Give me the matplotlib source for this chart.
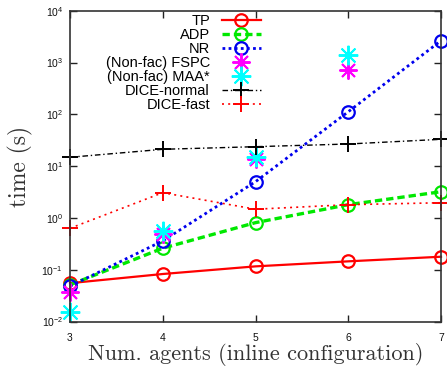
import math
import matplotlib
matplotlib.use("Agg")
import matplotlib.pyplot as plt
from matplotlib.ticker import FixedLocator, NullLocator, FuncFormatter

plt.rcParams["mathtext.fontset"] = "custom"
plt.rcParams["mathtext.rm"] = "Liberation Sans"
plt.rcParams["mathtext.it"] = "Liberation Sans:italic"
plt.rcParams["mathtext.bf"] = "Liberation Sans:bold"

# Number of agents
agents = [3, 4, 5, 6, 7]

# Run times in seconds
tp = [0.055, 0.0826, 0.116, 0.145, 0.178]
adp = [0.051, 0.26, 0.81, 1.8, 3.2]
nr = [0.048, 0.36, 5.0, 112, 2636]
fspc_x = [3, 4, 5, 6]
fspc = [0.0376, 0.48, 14.0, 716]
maa_x = [3, 4, 5, 6]
maa = [0.0155, 0.55, 15.2, 1396]
dice_normal = [14.8, 21.1, 23.7, 26.7, 32.9]
dice_fast = [0.63, 3.07, 1.47, 1.8, 1.96]

y_ticks = [1e-2, 1e-1, 1e0, 1e1, 1e2, 1e3, 1e4]

labels = ["TP", "ADP", "NR", "(Non-fac) FSPC", "(Non-fac) MAA*", "DICE-normal", "DICE-fast"]

W, H = 447, 368
fig = plt.figure(figsize=(W / 100, H / 100), dpi=100)
ax = fig.add_axes([70 / W, 1 - 321.5 / H, (441 - 70) / W, (321.5 - 10.7) / H])

asterisk = (8, 2, 0)
common = dict(clip_on=False)

ax.plot(agents, tp, color="#ff0000", lw=1.6, ls="-", marker="o", ms=9, mfc="none",
        mew=1.6, label=labels[0], **common)
ax.plot(agents, adp, color="#00e800", lw=2.4, ls=(0, (2.2, 1.2)), marker="o", ms=9,
        mfc="none", mew=1.6, label=labels[1], **common)
ax.plot(agents, nr, color="#0000ee", lw=2.0, ls=(0, (1, 1.2)), marker="o", ms=9,
        mfc="none", mew=1.6, label=labels[2], **common)
ax.plot(fspc_x, fspc, color="#ff00ff", ls="none", marker=asterisk, ms=13, mew=1.4,
        label=labels[3], **common)
ax.plot(maa_x, maa, color="#00ffff", ls="none", marker=asterisk, ms=14, mew=1.4,
        label=labels[4], **common)
ax.plot(agents, dice_normal, color="black", lw=1.0, ls=(0, (4, 2, 1, 2)), marker="+",
        ms=11, mew=1.4, label=labels[5], **common)
ax.plot(agents, dice_fast, color="#ff0000", lw=1.2, ls=(0, (1.2, 2.5)), marker="+",
        ms=11, mew=1.4, label=labels[6], **common)

ax.set_yscale("log")
ax.set_xlim(3, 7)
ax.set_ylim(1e-2, 1e4)
ax.xaxis.set_major_locator(FixedLocator(agents))
ax.yaxis.set_major_locator(FixedLocator(y_ticks))
ax.yaxis.set_minor_locator(NullLocator())


def pow_fmt(v, pos):
    e = int(round(math.log10(v)))
    return r"$10^{%d}$" % e


ax.yaxis.set_major_formatter(FuncFormatter(pow_fmt))
ax.tick_params(axis="both", which="major", direction="in", length=5, width=1,
               top=True, right=True, labelsize=7.5, colors="#222222",
               labelcolor="#111111")
ax.tick_params(axis="x", pad=8)
ax.tick_params(axis="y", pad=5)
for lab in ax.get_xticklabels() + ax.get_yticklabels():
    lab.set_family("Liberation Sans")
for sp in ax.spines.values():
    sp.set_linewidth(1.2)
    sp.set_color("#333333")

ax.set_xlabel("Num. agents (inline configuration)", family="cmr10", fontsize=16,
              color="#333333")
ax.xaxis.set_label_coords(0.5, -0.07)
ax.set_ylabel("time (s)", family="cmr10", fontsize=17, color="#333333")
ax.yaxis.set_label_coords(-0.101, 0.5)

leg = ax.legend(loc="upper right", bbox_to_anchor=(261 / W, 1 - 14 / H),
                bbox_transform=fig.transFigure, frameon=False, markerfirst=False,
                prop={"family": "Liberation Sans", "size": 10.5}, handlelength=2.7,
                handletextpad=0.8, labelspacing=0.0, borderpad=0, borderaxespad=0)
for t in leg.get_texts():
    t.set_ha("right")

fig.savefig("out.png", dpi=100)
